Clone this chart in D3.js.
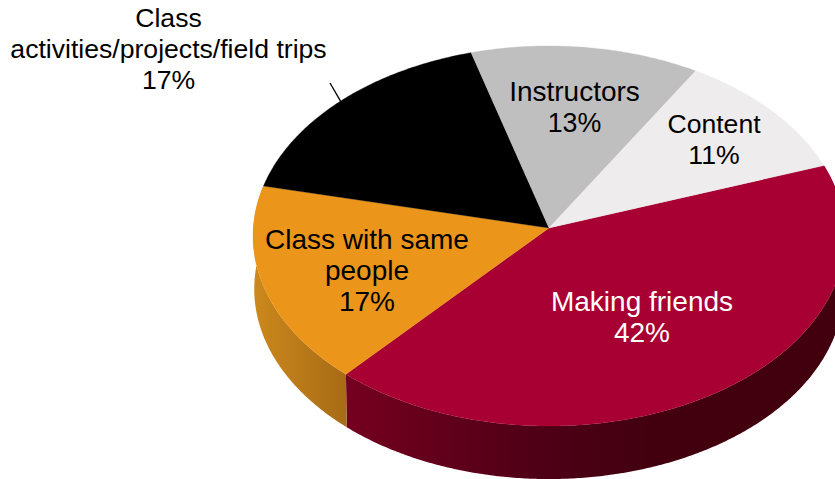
<!DOCTYPE html>
<html><head><meta charset="utf-8">
<script src="https://cdn.jsdelivr.net/npm/d3@7"></script>
<style>html,body{margin:0;padding:0;background:#fff;overflow:hidden}svg{display:block}
text{font-family:"Liberation Sans",Arial,sans-serif;text-anchor:middle}</style>
</head><body><svg id="c" width="835" height="479"></svg>
<script>
const categories = ["Making friends","Class with same people","Class activities/projects/field trips","Instructors","Content"];
const values = [42,17,17,13,11];
const topColors = ["#A80033","#EB961B","#000000","#BFBFBF","#EEECED"];
const sideStops = [
  [[344,"#75001F"],[540,"#4E0016"],[650,"#42000F"],[835,"#42000F"]],
  [[254,"#CB881C"],[344,"#A86C16"]]
];
const labelLines = [["Making friends","42%"],["Class with same","people","17%"],["Class","activities/projects/field trips","17%"],["Instructors","13%"],["Content","11%"]];
const labelSizes = [[28,28],[28,28,28],[26.6,26.6,26.6],[28,26.8],[26.6,26.6]];
const labelPos = [[642,310.5],[367,249],[168.5,27],[574.5,101],[714,132.5]];
const labelColors = ["#fff","#000","#000","#000","#000"];

const svg = d3.select("#c");
const deg = Math.PI/180;
const topDisc = {cx:549, cy:228, a:295.7, b:189.7, k:0.042};
const lowDisc = {cx:549, cy:281, a:294.5, b:189.7, k:0.042};
function proj(d, t){ // t: clockwise from 12 o'clock
  const u = Math.sin(t), v = -Math.cos(t), w = 1 - d.k*v;
  return [d.cx + d.a*u/w, d.cy + d.b*v/w];
}
const pie = d3.pie().sort(null).value(d=>d).startAngle(70.5*deg).endAngle(430.5*deg);
const arcs = pie(values);
const line = d3.line();
const step = 0.5*deg;
const angles = a => d3.range(a.startAngle, a.endAngle, step).concat([a.endAngle]);

// side wall: one path per visible slice, shaded left to right with a gradient
const defs = svg.append("defs");
[0,1].forEach(i=>{
  const stops = sideStops[i];
  const x0 = stops[0][0], x1 = stops[stops.length-1][0];
  const lg = defs.append("linearGradient").attr("id","side"+i)
    .attr("gradientUnits","userSpaceOnUse").attr("x1",x0).attr("x2",x1).attr("y1",0).attr("y2",0);
  const off = d3.scaleLinear().domain([x0,x1]).range([0,1]);
  stops.forEach(s=>lg.append("stop").attr("offset",off(s[0])).attr("stop-color",s[1]));
  const ts = angles(arcs[i]);
  const pts = ts.map(t=>proj(topDisc,t)).concat(ts.slice().reverse().map(t=>proj(lowDisc,t)));
  svg.append("path").attr("d",line(pts)+"Z").attr("fill",`url(#side${i})`);
});

// top face
const center = [topDisc.cx, topDisc.cy];
arcs.forEach((a,i)=>{
  svg.append("path").attr("d",line([center,...angles(a).map(t=>proj(topDisc,t))])+"Z")
    .attr("fill",topColors[i]).attr("stroke",topColors[i]).attr("stroke-width",0.3);
});

// leader line for the outside label
const mid = (arcs[2].startAngle+arcs[2].endAngle)/2;
const rim = proj(topDisc, mid);
svg.append("line").attr("x1",330).attr("y1",83).attr("x2",rim[0]).attr("y2",rim[1]).attr("stroke","#000").attr("stroke-width",1.3);

// labels
labelLines.forEach((ls,i)=>{
  const t = svg.append("text").attr("fill",labelColors[i]);
  ls.forEach((s,j)=>t.append("tspan").attr("x",labelPos[i][0]).attr("y",labelPos[i][1]+j*31.2)
    .attr("font-size",labelSizes[i][j]).text(s));
});
</script></body></html>
